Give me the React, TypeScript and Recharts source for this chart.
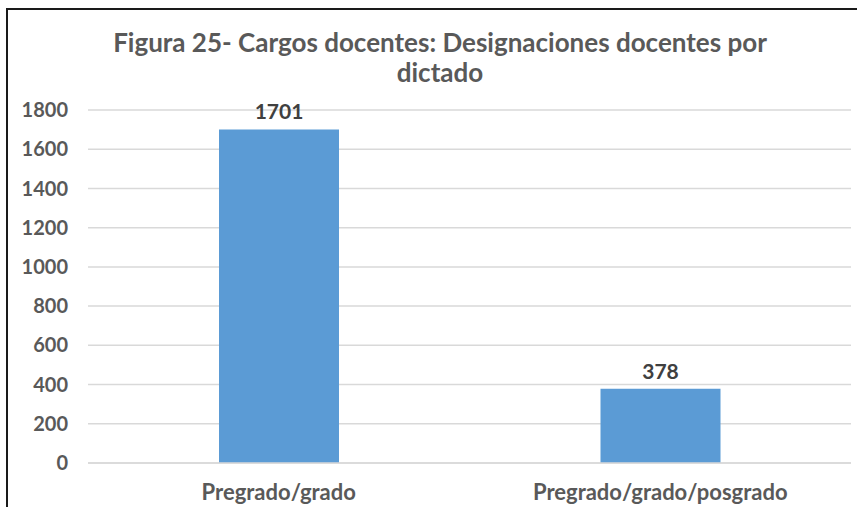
import React from "react";
import { BarChart, Bar, XAxis, YAxis, CartesianGrid, LabelList } from "recharts";

const categories = ["Pregrado/grado", "Pregrado/grado/posgrado"];
const designaciones = [1701, 378];
const yTicks = [0, 200, 400, 600, 800, 1000, 1200, 1400, 1600, 1800];
const titleLines = ["Figura 25- Cargos docentes: Designaciones docentes por", "dictado"];

const data = categories.map((name, i) => ({ name, value: designaciones[i] }));

const FONT = "Lato, 'Open Sans', sans-serif";
const GREY = "#595959";

export default function App() {
  return (
    <div style={{ position: "fixed", left: 0, top: 0, width: 857, height: 507, overflow: "hidden", background: "#fff", fontFamily: FONT }}>
      <div
        style={{
          position: "absolute",
          left: 0,
          width: 880,
          top: 27,
          textAlign: "center",
          color: GREY,
          fontWeight: 700,
          fontSize: 26,
          lineHeight: "30px",
        }}
      >
        {titleLines.map((t) => (
          <div key={t}>{t}</div>
        ))}
      </div>
      <div style={{ position: "absolute", left: 0, top: 0 }}>
        <BarChart width={857} height={507} data={data} margin={{ top: 110, right: 6, left: 0, bottom: 0 }}>
          <CartesianGrid vertical={false} stroke="#d9d9d9" strokeWidth={1.5} />
          <XAxis
            dataKey="name"
            height={44}
            axisLine={{ stroke: "#d9d9d9", strokeWidth: 1.5 }}
            tickLine={false}
            tickSize={0}
            tickMargin={21}
            tick={{ fill: GREY, fontSize: 22, fontWeight: 700, fontFamily: FONT }}
          />
          <YAxis
            width={88}
            domain={[0, 1800]}
            ticks={yTicks}
            axisLine={false}
            tickLine={false}
            tickSize={0}
            tickMargin={20}
            tick={{ fill: GREY, fontSize: 20, fontWeight: 700, fontFamily: FONT }}
          />
          <Bar dataKey="value" fill="#5b9bd5" barSize={120} isAnimationActive={false}>
            <LabelList
              dataKey="value"
              position="top"
              offset={10}
              fill="#404040"
              fontSize={21}
              fontWeight={700}
              fontFamily={FONT}
            />
          </Bar>
        </BarChart>
      </div>
      {/* frame: only the top and left edges show in the crop */}
      <div
        style={{
          position: "absolute",
          left: 6,
          top: 8,
          width: 900,
          height: 600,
          borderLeft: "2px solid #1a1a1a",
          borderTop: "2px solid #1a1a1a",
          zIndex: 2,
          pointerEvents: "none",
        }}
      />
    </div>
  );
}
